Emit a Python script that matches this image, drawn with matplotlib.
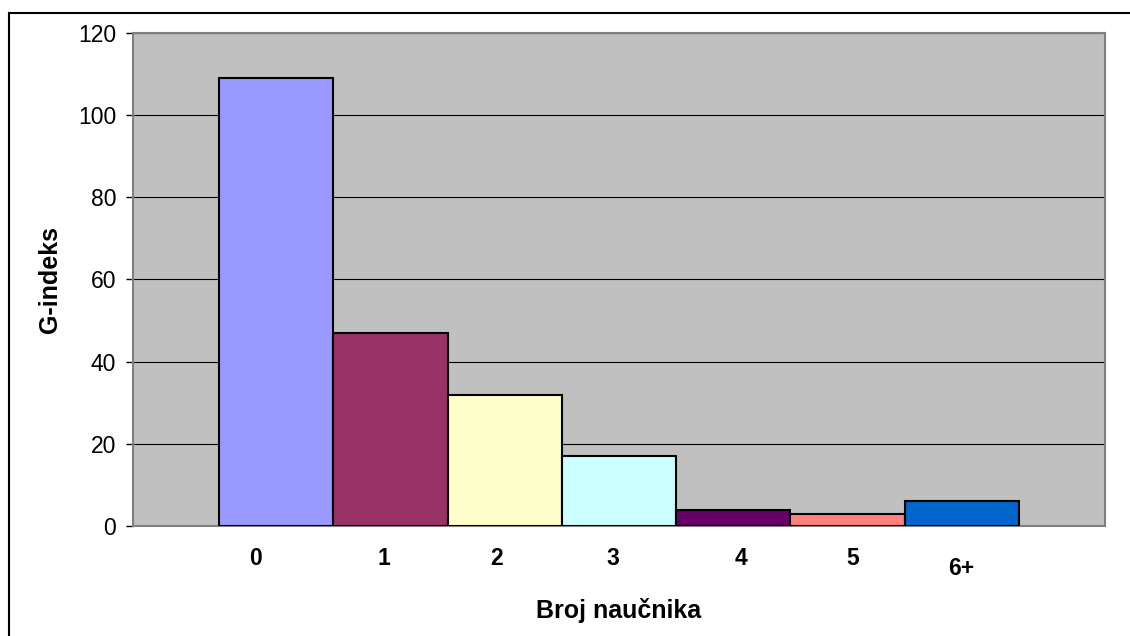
import matplotlib.pyplot as plt
from matplotlib.transforms import ScaledTranslation
from matplotlib.lines import Line2D

# broj naucnika i g-indeks
kategorije = ['0', '1', '2', '3', '4', '5', '6+']
g_indeks = [109, 47, 32, 17, 4, 3, 6]
boje = ['#9999FF', '#993366', '#FFFFCC', '#CCFFFF', '#660066', '#FF8080', '#0066CC']

# pomeraj natpisa na x osi (px)
pomeraj_x = [-21, -7, -8, -6, 8, 5, -1]
pomeraj_y = [0, 0, 0, 0, 0, 0, -10]

plt.rcParams['font.family'] = ['Liberation Sans', 'DejaVu Sans']

fig = plt.figure(figsize=(11.3, 6.36), dpi=100)
ax = fig.add_axes([0.1177, 0.1730, 0.8602, 0.7751])
ax.set_facecolor('#C0C0C0')

pozicije = list(range(len(kategorije)))
ax.bar(pozicije, g_indeks, width=1.0, color=boje, edgecolor='black', linewidth=1.5, zorder=3)

ax.set_xlim(-1.254, 7.254)
ax.set_ylim(0, 120)
ax.set_yticks(range(0, 121, 20))
ax.tick_params(axis='y', direction='out', length=5, width=1, labelsize=16.5, pad=7)
ax.yaxis.grid(True, color='black', linewidth=0.8)
ax.set_axisbelow(True)

ax.set_xticks(pozicije)
ax.set_xticklabels(kategorije, fontsize=16.5, fontweight='bold')
ax.tick_params(axis='x', length=0, pad=15)
for lbl, dx, dy in zip(ax.get_xticklabels(), pomeraj_x, pomeraj_y):
    lbl.set_transform(lbl.get_transform() + ScaledTranslation(dx / 100, dy / 100, fig.dpi_scale_trans))

for s in ax.spines.values():
    s.set_color('#808080')
    s.set_linewidth(1.5)

ax.set_xlabel('Broj naučnika', fontsize=18, fontweight='bold')
ax.xaxis.set_label_coords(0.5, -0.172)
ax.xaxis.label.set_va('center')
ax.set_ylabel('G-indeks', fontsize=18, fontweight='bold')
ax.yaxis.set_label_coords(-0.0854, 0.5)
ax.yaxis.label.set_va('center')

# okvir oko grafika
fig.add_artist(Line2D([9 / 1130, 1.0], [1 - 12.5 / 636] * 2, color='black', linewidth=1.5, transform=fig.transFigure))
fig.add_artist(Line2D([9 / 1130] * 2, [0.0, 1 - 12.5 / 636], color='black', linewidth=1.5, transform=fig.transFigure))

plt.savefig('out.png', dpi=100)
